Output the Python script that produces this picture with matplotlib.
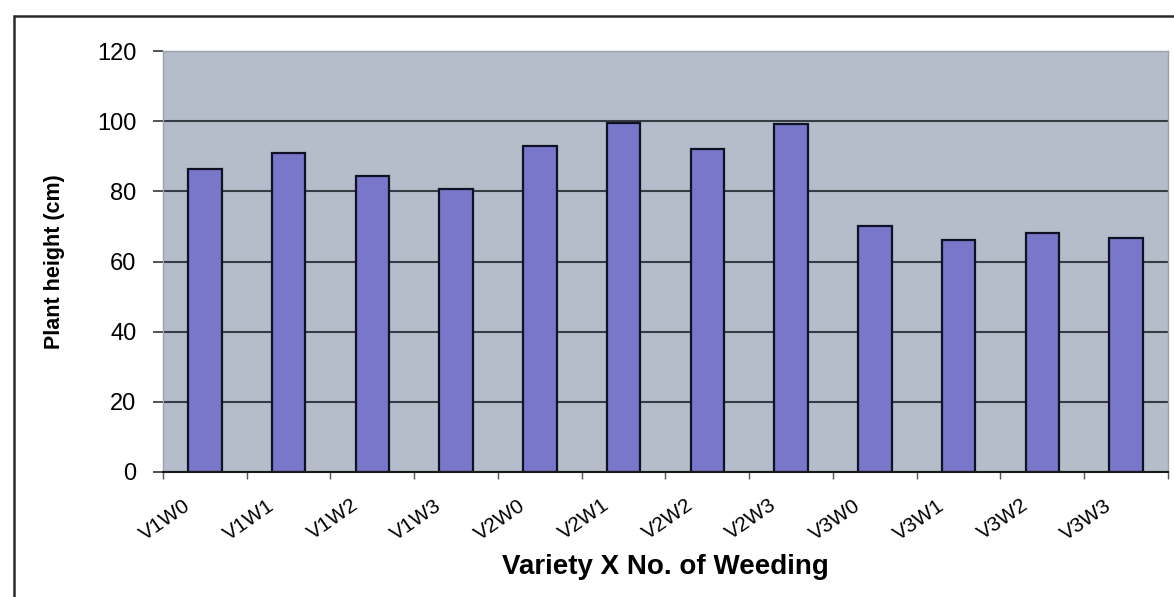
import matplotlib
matplotlib.use("Agg")
import matplotlib.pyplot as plt
import matplotlib.transforms as mtransforms
from matplotlib.patches import Rectangle
import numpy as np

categories = ["V1W0", "V1W1", "V1W2", "V1W3", "V2W0", "V2W1", "V2W2", "V2W3",
              "V3W0", "V3W1", "V3W2", "V3W3"]
plant_height = [86.5, 90.8, 84.5, 80.8, 93.0, 99.5, 92.0, 99.3, 70.0, 66.0, 68.0, 66.6]
y_ticks = [0, 20, 40, 60, 80, 100, 120]

plt.rcParams['font.family'] = ['Liberation Sans', 'DejaVu Sans']

W, H = 1174, 597
fig = plt.figure(figsize=(W / 100, H / 100), dpi=100)
fig.patch.set_facecolor('white')

# outer frame (top and left lines visible)
fig.patches.append(Rectangle((14 / W, -0.2), 1.5, (1 - 16 / H) + 0.2,
                             transform=fig.transFigure, fill=False,
                             edgecolor='#2a2a2a', linewidth=1.8, clip_on=False))

left, right = 163 / W, 1168 / W
bottom, top = 1 - 472 / H, 1 - 51 / H
ax = fig.add_axes([left, bottom, right - left, top - bottom])
ax.set_facecolor('#b4bdc9')

x = np.arange(len(categories))
ax.bar(x, plant_height, width=0.4, color='#7877c9', edgecolor='#111126',
       linewidth=1.6, zorder=3)

ax.set_xlim(-0.5, len(categories) - 0.5)
ax.set_ylim(0, 120)
ax.set_yticks(y_ticks)
ax.yaxis.grid(True, color='#363b44', linewidth=1.5, zorder=1)
ax.set_axisbelow(True)

ax.tick_params(axis='y', direction='out', length=7, width=1.2, color='#333333',
               labelsize=17, pad=12)
ax.set_xticks(x)
ax.set_xticklabels(categories, rotation=35, ha='right', va='top',
                   rotation_mode='anchor', fontsize=15)
ax.tick_params(axis='x', which='major', length=0, pad=17)
ax.set_xticks(np.arange(-0.5, len(categories) + 0.5, 1), minor=True)
ax.tick_params(axis='x', which='minor', direction='out', length=5, width=1,
               color='#555555')

offset = mtransforms.ScaledTranslation(-22 / 100, 0, fig.dpi_scale_trans)
for lab in ax.get_xticklabels():
    lab.set_transform(lab.get_transform() + offset)

for s in ['left', 'right', 'top']:
    ax.spines[s].set_color('#9aa2ae')
    ax.spines[s].set_linewidth(1)
ax.spines['bottom'].set_color('#1a1a1a')
ax.spines['bottom'].set_linewidth(1.5)
ax.spines['bottom'].set_zorder(4)

ax.set_ylabel('Plant height (cm)', fontsize=15.5, fontweight='bold')
ax.yaxis.set_label_coords((54 - 163) / (1168 - 163), 0.5)
ax.set_xlabel('Variety X No. of Weeding', fontsize=20, fontweight='bold')
ax.xaxis.set_label_coords(0.5, (472 - 567) / (472 - 51))
ax.xaxis.label.set_va('center')
ax.yaxis.label.set_va('center')

fig.savefig('out.png', dpi=100, facecolor='white')
